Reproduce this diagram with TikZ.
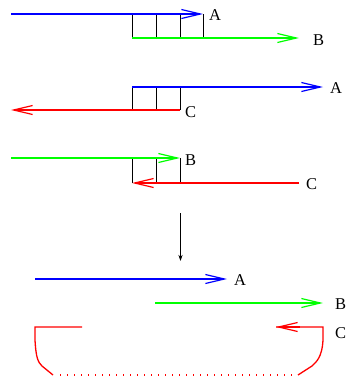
\documentclass[tikz,border=0pt]{standalone}
\usepackage{fontspec}
\setmainfont{Liberation Serif}
\usetikzlibrary{arrows.meta}
\definecolor{fblue}{RGB}{0,0,255}
\definecolor{fgreen}{RGB}{0,255,0}
\definecolor{fred}{RGB}{255,0,0}
\tikzset{
  lbl/.style={anchor=base west,inner sep=0pt,font=\fontsize{16.5bp}{16.5bp}\selectfont},
  ray/.style={line width=1.4bp,-{Straight Barb[length=19bp,width=9bp,line width=1.2bp]}},
  sep/.style={line width=1bp,draw=black},
  redline/.style={draw=fred,line width=1.3bp},
}
\begin{document}
\begin{tikzpicture}[x=1bp,y=-1bp]
\useasboundingbox (0,0) rectangle (349,383);
% Row 1
\coordinate (a1s) at (11,14); \coordinate (a1e) at (203,14);
\coordinate (b1s) at (132,38); \coordinate (b1e) at (299,38);
\node[lbl] (A1) at (209,20) {A};
\node[lbl] (B1) at (313,45) {B};
\foreach \x in {132,156,180,203} \draw[sep] (\x+0.5,14) -- (\x+0.5,38);
\draw[ray,draw=fblue] (a1s) -- (a1e);
\draw[ray,draw=fgreen] (b1s) -- (b1e);
% Row 2
\coordinate (a2s) at (132,87); \coordinate (a2e) at (323,87);
\coordinate (c2s) at (180,110); \coordinate (c2e) at (11,110);
\node[lbl] (A2) at (330,93) {A};
\node[lbl] (C2) at (185,117) {C};
\foreach \x in {132,156,180} \draw[sep] (\x+0.5,87) -- (\x+0.5,110);
\draw[ray,draw=fblue] (a2s) -- (a2e);
\draw[ray,draw=fred] (c2s) -- (c2e);
% Row 3
\coordinate (b3s) at (11,158); \coordinate (b3e) at (180,158);
\coordinate (c3s) at (299,183); \coordinate (c3e) at (132,183);
\node[lbl] (B3) at (185,165) {B};
\node[lbl] (C3) at (306,189) {C};
\foreach \x in {132,156,180} \draw[sep] (\x+0.5,158) -- (\x+0.5,183);
\draw[ray,draw=fgreen] (b3s) -- (b3e);
\draw[ray,draw=fred] (c3s) -- (c3e);
% Down arrow
\coordinate (ds) at (180.5,213); \coordinate (de) at (180.5,261);
\draw[line width=1bp,-{Stealth[length=6bp,width=4bp]}] (ds) -- (de);
% Result
\coordinate (a4s) at (35,279); \coordinate (a4e) at (227,279);
\coordinate (b4s) at (155,303); \coordinate (b4e) at (323,303);
\node[lbl] (A4) at (234,285) {A};
\node[lbl] (B4) at (335,309) {B};
\node[lbl] (C4) at (335,338) {C};
\draw[ray,draw=fblue] (a4s) -- (a4e);
\draw[ray,draw=fgreen] (b4s) -- (b4e);
\coordinate (cl) at (82,327);
\coordinate (cr) at (276,327);
\draw[redline] (cl) -- (35,327) -- (35,340) .. controls (36,358) and (38,362) .. (42,366) -- (53,375);
\draw[redline,line width=1.6bp,dash pattern=on 1.4bp off 5.6bp] (60,375) -- (298,375);
\draw[redline] (298,375) -- (312,366) .. controls (316,362) and (322,358) .. (323,340) -- (323,327) -- (cr);
\draw[ray,draw=fred] (300,327) -- (cr);
\end{tikzpicture}
\end{document}
